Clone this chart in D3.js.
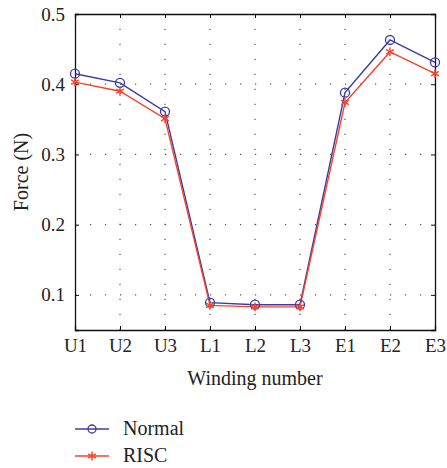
<!DOCTYPE html>
<html>
<head>
<meta charset="utf-8">
<script src="https://cdn.jsdelivr.net/npm/d3@7"></script>
<style>
body { margin: 0; background: #fff; }
text { font-family: "Liberation Serif", "DejaVu Serif", serif; fill: #222; }
</style>
</head>
<body>
<svg width="447" height="468"></svg>
<script>
var categories = ['U1', 'U2', 'U3', 'L1', 'L2', 'L3', 'E1', 'E2', 'E3'];
var normal = [0.415, 0.402, 0.361, 0.089, 0.086, 0.086, 0.388, 0.463, 0.431];
var risc = [0.403, 0.390, 0.351, 0.085, 0.083, 0.083, 0.374, 0.446, 0.415];
var yTicks = [0.1, 0.2, 0.3, 0.4, 0.5];

var svg = d3.select('svg');
var pLeft = 75, pRight = 435, pTop = 14, pBottom = 330;

var x = d3.scalePoint().domain(categories).range([pLeft, pRight]);
var y = d3.scaleLinear().domain([0.05, 0.5]).range([pBottom, pTop]);

// grid
var grid = svg.append('g').attr('stroke', '#555').attr('stroke-width', 1.2).attr('stroke-dasharray', '1.2,13.8');
grid.selectAll('.gx').data(categories.slice(1, -1)).enter().append('line')
  .attr('x1', d => x(d)).attr('x2', d => x(d)).attr('y1', pBottom).attr('y2', pTop);
grid.selectAll('.gy').data(yTicks.slice(0, -1)).enter().append('line')
  .attr('x1', pLeft).attr('x2', pRight).attr('y1', d => y(d)).attr('y2', d => y(d));

// axes
var ax = svg.append('g').attr('transform', 'translate(0,' + pBottom + ')')
  .call(d3.axisBottom(x).tickSize(-4).tickPadding(9));
var ay = svg.append('g').attr('transform', 'translate(' + pLeft + ',0)')
  .call(d3.axisLeft(y).tickValues(yTicks).tickSize(-4).tickPadding(10).tickFormat(d3.format('.1f')));
svg.append('g').attr('transform', 'translate(' + pRight + ',0)')
  .call(d3.axisRight(y).tickValues(yTicks).tickSize(-4).tickFormat(''));
svg.append('g').attr('transform', 'translate(0,' + pTop + ')')
  .call(d3.axisTop(x).tickSize(-4).tickFormat(''));
svg.selectAll('.domain').attr('stroke', '#111').attr('stroke-width', 1.3);
svg.selectAll('.tick line').attr('stroke', '#111');
ax.selectAll('text').attr('font-size', 19).attr('font-family', '"Liberation Serif", serif').attr('fill', '#222');
ay.selectAll('text').attr('font-size', 19).attr('font-family', '"Liberation Serif", serif').attr('fill', '#222');

// labels
svg.append('text').attr('x', 255).attr('y', 385).attr('text-anchor', 'middle')
  .attr('font-size', 20).text('Winding number');
svg.append('text').attr('transform', 'translate(28,' + ((pTop + pBottom) / 2) + ') rotate(-90)')
  .attr('text-anchor', 'middle').attr('font-size', 20).text('Force (N)');

// series
var blue = '#3c3ca0', red = '#f2452c';
var line = d3.line().x((d, i) => x(categories[i])).y(d => y(d));
svg.append('path').datum(normal).attr('d', line).attr('fill', 'none').attr('stroke', blue).attr('stroke-width', 1.4);
svg.append('path').datum(risc).attr('d', line).attr('fill', 'none').attr('stroke', red).attr('stroke-width', 1.4);

svg.selectAll('.mn').data(normal).enter().append('circle')
  .attr('cx', (d, i) => x(categories[i])).attr('cy', d => y(d)).attr('r', 4.5)
  .attr('fill', 'none').attr('stroke', blue).attr('stroke-width', 1.3);

var star = d3.symbol().type(d3.symbolAsterisk).size(55);
svg.selectAll('.mr').data(risc).enter().append('path')
  .attr('transform', (d, i) => 'translate(' + x(categories[i]) + ',' + y(d) + ')')
  .attr('d', star).attr('fill', 'none').attr('stroke', red).attr('stroke-width', 1.5);

// legend
var legend = [{name: 'Normal', color: blue, mark: 'circle'}, {name: 'RISC', color: red, mark: 'star'}];
var lg = svg.selectAll('.lg').data(legend).enter().append('g')
  .attr('transform', (d, i) => 'translate(75,' + (429 + i * 27) + ')');
lg.append('line').attr('x1', 0).attr('x2', 34).attr('stroke', d => d.color).attr('stroke-width', 1.4);
lg.filter(d => d.mark === 'circle').append('circle').attr('cx', 17).attr('r', 4)
  .attr('fill', 'none').attr('stroke', d => d.color).attr('stroke-width', 1.3);
lg.filter(d => d.mark === 'star').append('path').attr('transform', 'translate(17,0)')
  .attr('d', star).attr('fill', 'none').attr('stroke', d => d.color).attr('stroke-width', 1.5);
lg.append('text').attr('x', 48).attr('y', 6).attr('font-size', 20).text(d => d.name);
</script>
</body>
</html>
